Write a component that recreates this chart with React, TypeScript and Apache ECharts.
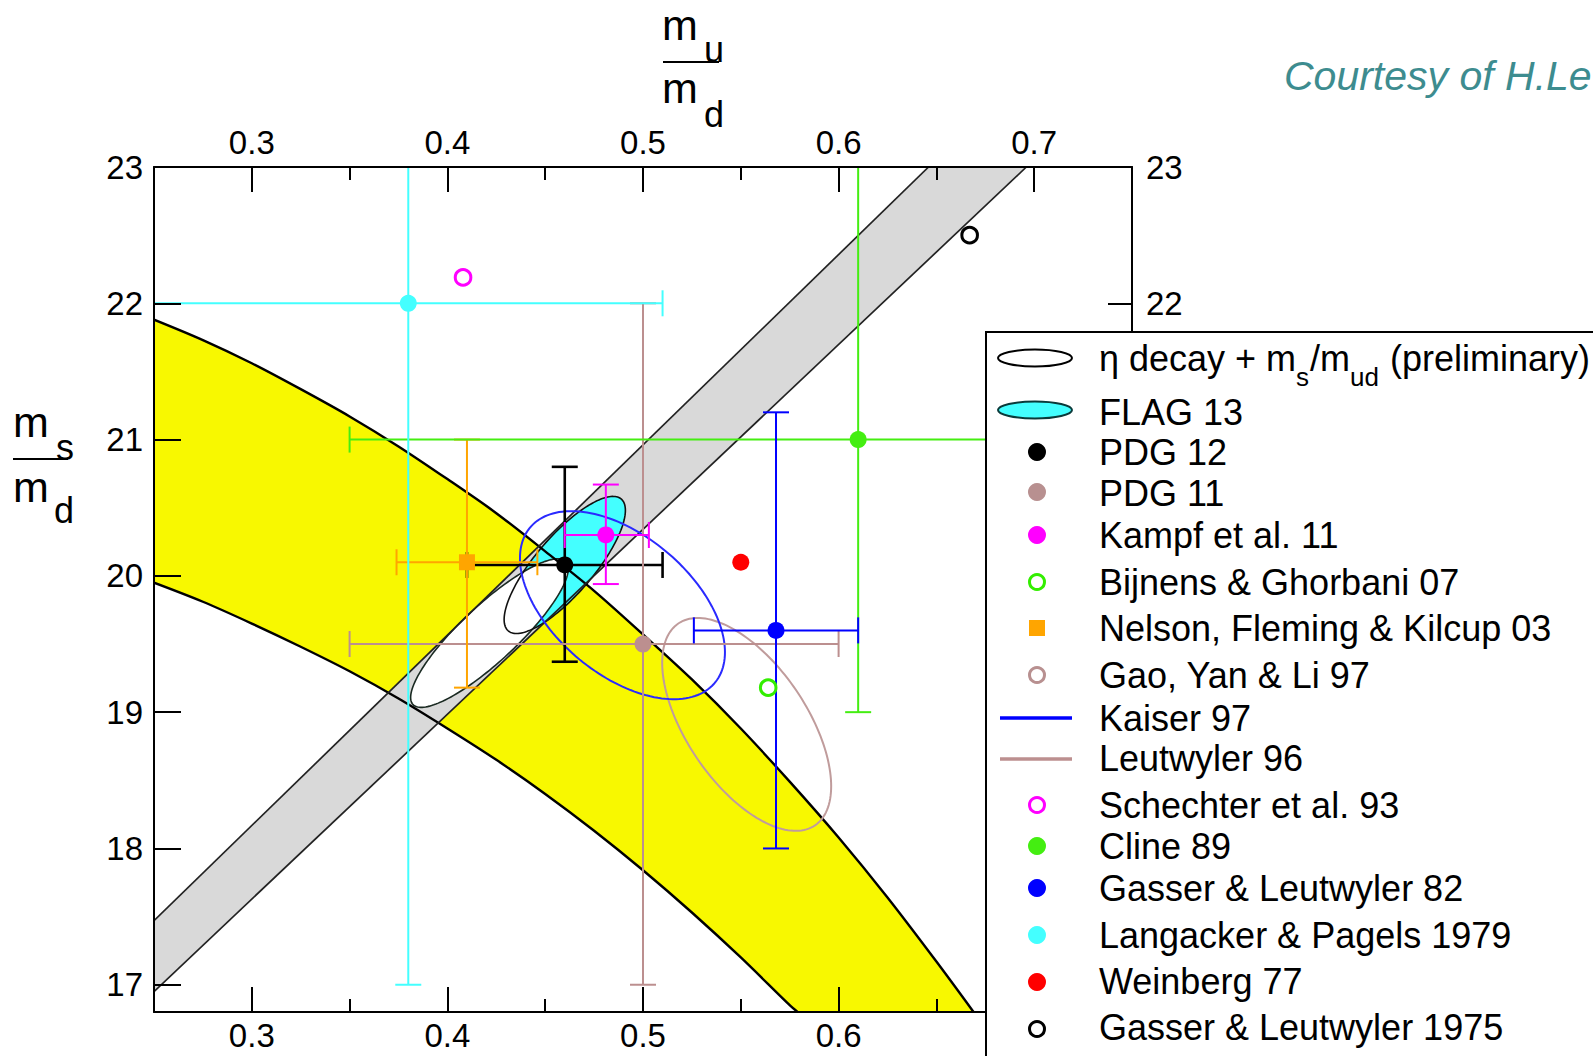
import React, { useEffect, useRef } from "react";
import * as echarts from "echarts";

const W = 1593;
const H = 1056;
const FONT = '"Liberation Sans", Arial, Helvetica, sans-serif';

// ---------- axes ----------
const xRange = [0.25, 0.75];
const yRange = [16.8, 23];
const xMajorTicks = [0.3, 0.4, 0.5, 0.6, 0.7];
const xMinorTicks = [0.35, 0.45, 0.55, 0.65];
const yMajorTicks = [17, 18, 19, 20, 21, 22, 23];
const yRightLabels = [22, 23];

// ---------- yellow band ----------
const yellowUpperX = [0.25, 0.275, 0.3, 0.325, 0.35, 0.375, 0.4, 0.425, 0.45, 0.475, 0.5, 0.525, 0.55, 0.575, 0.6, 0.625, 0.65, 0.669];
const yellowUpperY = [21.88, 21.73, 21.56, 21.37, 21.17, 20.95, 20.71, 20.46, 20.18, 19.89, 19.57, 19.24, 18.88, 18.49, 18.08, 17.64, 17.17, 16.8];
const yellowLowerX = [0.25, 0.275, 0.3, 0.325, 0.35, 0.375, 0.4, 0.425, 0.45, 0.475, 0.5, 0.525, 0.55, 0.575, 0.579];
const yellowLowerY = [19.95, 19.81, 19.65, 19.48, 19.3, 19.1, 18.88, 18.65, 18.4, 18.13, 17.84, 17.53, 17.2, 16.85, 16.8];

// ---------- grey band ----------
const greyUpperX = [0.25, 0.646];
const greyUpperY = [17.47, 23.0];
const greyLowerX = [0.25, 0.696];
const greyLowerY = [16.95, 23.0];

// ---------- ellipses: centre x, centre y, sigma x, sigma y, correlation ----------
const etaEllipse = [0.4215, 19.58, 0.0403, 0.545, 0.866];
const flagEllipse = [0.46, 20.08, 0.031, 0.503, 0.796];
const kaiserEllipse = [0.4895, 19.785, 0.0524, 0.69, -0.5];
const leutwylerEllipse = [0.553, 18.91, 0.0432, 0.781, -0.58];

// ---------- points with error bars ----------
const pointNames = ["PDG 12", "PDG 11", "Kampf et al. 11", "Bijnens & Ghorbani 07", "Nelson, Fleming & Kilcup 03", "Schechter et al. 93", "Cline 89", "Gasser & Leutwyler 82", "Langacker & Pagels 1979", "Weinberg 77", "Gasser & Leutwyler 1975"];
const pointX = [0.46, 0.5, 0.481, 0.564, 0.41, 0.408, 0.61, 0.568, 0.38, 0.55, 0.667];
const pointY = [20.08, 19.5, 20.3, 19.18, 20.1, 22.19, 21.0, 19.6, 22.0, 20.1, 22.5];
const xErrLow = [0.41, 0.35, 0.46, null, 0.374, null, 0.35, 0.526, 0.25, null, null];
const xErrHigh = [0.51, 0.6, 0.503, null, 0.446, null, 0.87, 0.61, 0.51, null, null];
const yErrLow = [19.37, 17.0, 19.94, null, 19.18, null, 19.0, 18.0, 17.0, null, null];
const yErrHigh = [20.8, 22.0, 20.67, null, 21.0, null, 23.0, 21.2, 27.0, null, null];
const pointColor = ["#000000", "#bc8f8f", "#ff00ff", "#33ee00", "#ffa500", "#ff00ff", "#44ee11", "#0000ff", "#44ffff", "#ff0000", "#000000"];
const pointMarker = ["dot", "dot", "dot", "ring", "square", "ring", "dot", "dot", "dot", "dot", "ring"];

// ---------- legend ----------
const legendNames = ["η decay + m_s/m_ud (preliminary)", "FLAG 13", "PDG 12", "PDG 11", "Kampf et al. 11", "Bijnens & Ghorbani 07", "Nelson, Fleming & Kilcup 03", "Gao, Yan & Li 97", "Kaiser 97", "Leutwyler 96", "Schechter et al. 93", "Cline 89", "Gasser & Leutwyler 82", "Langacker & Pagels 1979", "Weinberg 77", "Gasser & Leutwyler 1975"];
const legendKinds = ["ellipse", "ellipse", "dot", "dot", "dot", "ring", "square", "ring", "line", "line", "ring", "dot", "dot", "dot", "dot", "ring"];
const legendColors = ["#ffffff", "#44ffff", "#000000", "#b89090", "#ff00ff", "#33ee00", "#ffa500", "#b89090", "#0000ff", "#bc8f8f", "#ff00ff", "#44ee11", "#0000ff", "#44ffff", "#ff0000", "#000000"];
const etaLabelParts: [string, boolean][] = [["η decay + m", false], ["s", true], ["/m", false], ["ud", true], [" (preliminary)", false]];
const creditText = "Courtesy of H.Le";

function ellipsePoints(api: any, e: number[]) {
  const [cx, cy, sx, sy, r] = e;
  const k = Math.sqrt(1 - r * r);
  const pts: number[][] = [];
  const n = 160;
  for (let i = 0; i < n; i++) {
    const t = (i / n) * Math.PI * 2;
    pts.push(api.coord([cx + sx * Math.cos(t), cy + sy * (r * Math.cos(t) + k * Math.sin(t))]));
  }
  return pts;
}

function layer(z: number, build: (api: any) => any[]) {
  return {
    type: "custom",
    coordinateSystem: "cartesian2d",
    xAxisIndex: 0,
    yAxisIndex: 0,
    data: [[0.5, 20]],
    z,
    clip: true,
    silent: true,
    renderItem: (_p: any, api: any) => ({ type: "group", children: build(api) }),
  };
}

const clampX = (v: number) => Math.min(xRange[1], Math.max(xRange[0], v));
const clampY = (v: number) => Math.min(yRange[1], Math.max(yRange[0], v));

export default function App() {
  const ref = useRef<HTMLDivElement>(null);
  useEffect(() => {
    const el = ref.current!;
    const chart = echarts.init(el, null, { renderer: "svg", width: W, height: H });
    const ctx = document.createElement("canvas").getContext("2d")!;
    const measure = (t: string, size: number) => {
      ctx.font = `${size}px ${FONT}`;
      return ctx.measureText(t).width;
    };

    const xAxisBase = (position: string, labels: number[] | null, ticks: number[], tickLen: number, showLine: boolean, margin: number) => ({
      type: "value",
      position,
      min: xRange[0],
      max: xRange[1],
      z: 50,
      axisLine: { show: showLine, onZero: false, lineStyle: { color: "#000", width: 2 } },
      axisTick: { show: true, inside: true, length: tickLen, customValues: ticks, lineStyle: { color: "#000", width: 2 } },
      axisLabel: labels
        ? { show: true, customValues: labels, margin, color: "#000", fontSize: 33, fontFamily: FONT, formatter: (v: number) => v.toFixed(1) }
        : { show: false },
      splitLine: { show: false },
    });
    const yAxisBase = (position: string, labels: number[], tickLen: number, margin: number) => ({
      type: "value",
      position,
      min: yRange[0],
      max: yRange[1],
      z: 50,
      axisLine: { show: true, onZero: false, lineStyle: { color: "#000", width: 2 } },
      axisTick: { show: true, inside: true, length: tickLen, customValues: yMajorTicks, lineStyle: { color: "#000", width: 2 } },
      axisLabel: { show: true, customValues: labels, margin, color: "#000", fontSize: 33, fontFamily: FONT },
      splitLine: { show: false },
    });

    const series: any[] = [];
    // yellow band
    series.push(
      layer(1, (api) => {
        const pts: number[][] = [];
        yellowUpperX.forEach((x, i) => pts.push(api.coord([x, yellowUpperY[i]])));
        for (let i = yellowLowerX.length - 1; i >= 0; i--) pts.push(api.coord([yellowLowerX[i], yellowLowerY[i]]));
        return [{ type: "polygon", shape: { points: pts }, style: { fill: "#f8f800", stroke: "none" } }];
      })
    );
    // grey band
    series.push(
      layer(2, (api) => {
        const pts = [
          api.coord([greyUpperX[0], greyUpperY[0]]),
          api.coord([greyUpperX[1], greyUpperY[1]]),
          api.coord([greyLowerX[1], greyLowerY[1]]),
          api.coord([greyLowerX[0], greyLowerY[0]]),
        ];
        return [{ type: "polygon", shape: { points: pts }, style: { fill: "#d9d9d9", stroke: "none" } }];
      })
    );
    // FLAG fill
    series.push(layer(3, (api) => [{ type: "polygon", shape: { points: ellipsePoints(api, flagEllipse) }, style: { fill: "#44ffff", stroke: "none" } }]));
    // eta ellipse
    series.push(layer(4, (api) => [{ type: "polygon", shape: { points: ellipsePoints(api, etaEllipse) }, style: { fill: "#ffffff", stroke: "#1a2a22", lineWidth: 1.6 } }]));
    // FLAG outline
    series.push(layer(5, (api) => [{ type: "polygon", shape: { points: ellipsePoints(api, flagEllipse) }, style: { fill: "none", stroke: "#111", lineWidth: 1.6 } }]));
    // band edges
    series.push(
      layer(6, (api) => {
        const up = yellowUpperX.map((x, i) => api.coord([x, yellowUpperY[i]]));
        const lo = yellowLowerX.map((x, i) => api.coord([x, yellowLowerY[i]]));
        const gu = greyUpperX.map((x, i) => api.coord([x, greyUpperY[i]]));
        const gl = greyLowerX.map((x, i) => api.coord([x, greyLowerY[i]]));
        return [
          { type: "polyline", shape: { points: up, smooth: 0.3 }, style: { fill: "none", stroke: "#000", lineWidth: 2.4 } },
          { type: "polyline", shape: { points: lo, smooth: 0.3 }, style: { fill: "none", stroke: "#000", lineWidth: 2.4 } },
          { type: "polyline", shape: { points: gu }, style: { fill: "none", stroke: "#222", lineWidth: 1.7 } },
          { type: "polyline", shape: { points: gl }, style: { fill: "none", stroke: "#222", lineWidth: 1.7 } },
        ];
      })
    );
    // Kaiser & Leutwyler ellipses
    series.push(
      layer(7, (api) => [
        { type: "polygon", shape: { points: ellipsePoints(api, leutwylerEllipse) }, style: { fill: "none", stroke: "#c09c9c", lineWidth: 2 } },
        { type: "polygon", shape: { points: ellipsePoints(api, kaiserEllipse) }, style: { fill: "none", stroke: "#2a2aff", lineWidth: 2 } },
      ])
    );
    // error bars
    series.push(
      layer(8, (api) => {
        const out: any[] = [];
        const cap = 13;
        pointX.forEach((x, i) => {
          const y = pointY[i];
          const color = pointColor[i];
          const lw = i === 0 ? 2.6 : 2;
          const xl = xErrLow[i], xh = xErrHigh[i], yl = yErrLow[i], yh = yErrHigh[i];
          if (xl !== null && xh !== null) {
            const a = api.coord([clampX(xl), y]);
            const b = api.coord([clampX(xh), y]);
            out.push({ type: "line", shape: { x1: a[0], y1: a[1], x2: b[0], y2: b[1] }, style: { stroke: color, lineWidth: lw } });
            [xl, xh].forEach((v) => {
              if (v > xRange[0] && v < xRange[1]) {
                const c = api.coord([v, y]);
                out.push({ type: "line", shape: { x1: c[0], y1: c[1] - cap, x2: c[0], y2: c[1] + cap }, style: { stroke: color, lineWidth: lw } });
              }
            });
          }
          if (yl !== null && yh !== null) {
            const a = api.coord([x, clampY(yl)]);
            const b = api.coord([x, clampY(yh)]);
            out.push({ type: "line", shape: { x1: a[0], y1: a[1], x2: b[0], y2: b[1] }, style: { stroke: color, lineWidth: lw } });
            [yl, yh].forEach((v) => {
              if (v > yRange[0] && v < yRange[1]) {
                const c = api.coord([x, v]);
                out.push({ type: "line", shape: { x1: c[0] - cap, y1: c[1], x2: c[0] + cap, y2: c[1] }, style: { stroke: color, lineWidth: lw } });
              }
            });
          }
        });
        return out;
      })
    );
    // markers
    series.push(
      layer(9, (api) => {
        const out: any[] = [];
        const order = pointX.map((_, i) => i).reverse();
        order.forEach((i) => {
          const c = api.coord([pointX[i], pointY[i]]);
          const color = pointColor[i];
          const kind = pointMarker[i];
          if (kind === "dot") out.push({ type: "circle", shape: { cx: c[0], cy: c[1], r: 8.5 }, style: { fill: color } });
          else if (kind === "ring") out.push({ type: "circle", shape: { cx: c[0], cy: c[1], r: 7.8 }, style: { fill: "#fff", stroke: color, lineWidth: 3 } });
          else out.push({ type: "rect", shape: { x: c[0] - 8, y: c[1] - 8, width: 16, height: 16 }, style: { fill: color } });
        });
        return out;
      })
    );

    // ---------- graphic: legend, titles, credit ----------
    const g: any[] = [];
    g.push({ type: "rect", z: 100, shape: { x: 986, y: 332, width: 800, height: 900 }, style: { fill: "#fff", stroke: "#000", lineWidth: 2 } });
    const legendY = [358, 410, 452, 492, 535, 582, 628, 675, 718, 759, 805, 846, 888, 935, 982, 1029];
    const legendTextY = [358, 412, 452, 493, 535, 582, 628, 675, 718, 758, 805, 846, 888, 935, 981, 1027];
    const symX = 1037;
    const textX = 1099;
    legendNames.forEach((name, i) => {
      const cy = legendY[i];
      const kind = legendKinds[i];
      const color = legendColors[i];
      if (kind === "ellipse") {
        g.push({ type: "ellipse", z: 101, shape: { cx: 1035, cy, rx: 37, ry: 8.5 }, style: { fill: color, stroke: i === 0 ? "#000" : "#0a3a3a", lineWidth: 2 } });
      } else if (kind === "dot") {
        g.push({ type: "circle", z: 101, shape: { cx: symX, cy, r: 9 }, style: { fill: color } });
      } else if (kind === "ring") {
        g.push({ type: "circle", z: 101, shape: { cx: symX, cy, r: 7.5 }, style: { fill: "#fff", stroke: color, lineWidth: 3 } });
      } else if (kind === "square") {
        g.push({ type: "rect", z: 101, shape: { x: symX - 8, y: cy - 8, width: 16, height: 16 }, style: { fill: color } });
      } else {
        g.push({ type: "line", z: 101, shape: { x1: 1000, y1: cy, x2: 1072, y2: cy }, style: { stroke: color, lineWidth: 3.5 } });
      }
      if (i === 0) {
        let x = textX;
        etaLabelParts.forEach(([t, sub]) => {
          const size = sub ? 26 : 36;
          const baseline = sub ? 386 : 371;
          g.push({
            type: "text", z: 102, x, y: baseline - 0.3465 * size,
            style: { text: t, fontSize: size, fontFamily: FONT, fill: "#000", textAlign: "left", textVerticalAlign: "middle", verticalAlign: "middle" },
          });
          x += measure(t, size) + (sub ? 1 : 0);
        });
      } else {
        g.push({
          type: "text", z: 102, x: textX, y: legendTextY[i],
          style: { text: name, fontSize: 36, fontFamily: FONT, fill: "#000", textAlign: "left", textVerticalAlign: "middle", verticalAlign: "middle" },
        });
      }
    });

    const fracText = (t: string, x: number, baseline: number, size: number) => ({
      type: "text", z: 60, x, y: baseline - 0.3465 * size,
      style: { text: t, fontSize: size, fontFamily: FONT, fill: "#000", textAlign: "left", textVerticalAlign: "middle", verticalAlign: "middle" },
    });
    // top title m_u / m_d
    g.push(fracText("m", 662, 39.5, 43));
    g.push(fracText("u", 704, 62, 36));
    g.push({ type: "line", z: 60, shape: { x1: 663, y1: 62, x2: 719, y2: 62 }, style: { stroke: "#000", lineWidth: 2 } });
    g.push(fracText("m", 662, 103, 43));
    g.push(fracText("d", 704, 127, 36));
    // left title m_s / m_d
    g.push(fracText("m", 13, 437, 43));
    g.push(fracText("s", 56, 460, 36));
    g.push({ type: "line", z: 60, shape: { x1: 13, y1: 459, x2: 68, y2: 459 }, style: { stroke: "#000", lineWidth: 2 } });
    g.push(fracText("m", 13, 502, 43));
    g.push(fracText("d", 54, 523, 36));
    // credit
    g.push({
      type: "text", z: 60, x: 1284, y: 90 - 0.3465 * 41,
      style: { text: creditText, fontSize: 41, fontStyle: "italic", fontFamily: FONT, fill: "#3d8c8f", textAlign: "left", textVerticalAlign: "middle", verticalAlign: "middle" },
    });

    const option: any = {
      animation: false,
      backgroundColor: "#fff",
      textStyle: { fontFamily: FONT },
      grid: { left: 154, right: W - 1132, top: 167, bottom: H - 1012, containLabel: false },
      xAxis: [
        xAxisBase("bottom", xMajorTicks, xMajorTicks, 25, true, 7),
        xAxisBase("bottom", null, xMinorTicks, 13, false, 0),
        xAxisBase("top", xMajorTicks, xMajorTicks, 25, true, 8),
        xAxisBase("top", null, xMinorTicks, 13, false, 0),
      ],
      yAxis: [yAxisBase("left", yMajorTicks, 27, 11), yAxisBase("right", yRightLabels, 24, 14)],
      series,
      graphic: { elements: g },
    };
    chart.setOption(option);
    return () => chart.dispose();
  }, []);
  return <div ref={ref} style={{ position: "fixed", left: 0, top: 0, width: W, height: H, background: "#fff" }} />;
}
